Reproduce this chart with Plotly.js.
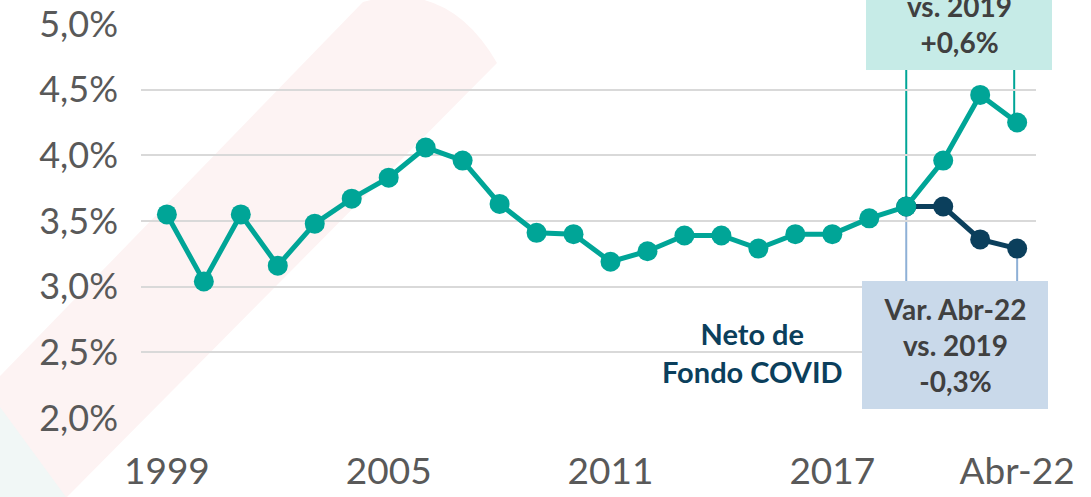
<!DOCTYPE html>
<html>
<head>
<meta charset="utf-8">
<script src="https://cdn.plot.ly/plotly-3.0.1.min.js"></script>
<style>
  html, body { margin: 0; padding: 0; background: #ffffff; }
  #chart { width: 1091px; height: 497px; }
</style>
</head>
<body>
<div id="chart"></div>
<script>
// ---- Data ----
const years = [1999, 2000, 2001, 2002, 2003, 2004, 2005, 2006, 2007, 2008, 2009, 2010,
               2011, 2012, 2013, 2014, 2015, 2016, 2017, 2018, 2019, 2020, 2021, 2022];
const totalValues = [3.55, 3.04, 3.55, 3.16, 3.48, 3.67, 3.83, 4.06, 3.96, 3.63, 3.41, 3.40,
                     3.19, 3.27, 3.39, 3.39, 3.29, 3.40, 3.40, 3.52, 3.61, 3.96, 4.46, 4.25];
const netYears = [2019, 2020, 2021, 2022];
const netValues = [3.61, 3.61, 3.36, 3.29];
const tickYears = [1999, 2005, 2011, 2017, 2022];
const tickLabels = ['1999', '2005', '2011', '2017', 'Abr-22'];
const yTicks = [2.0, 2.5, 3.0, 3.5, 4.0, 4.5, 5.0];
const yTickLabels = ['2,0%', '2,5%', '3,0%', '3,5%', '4,0%', '4,5%', '5,0%'];
const boxUpText = 'Var. Abr-22<br>vs. 2019<br>+0,6%';
const boxDownText = 'Var. Abr-22<br>vs. 2019<br>-0,3%';
const netLabel = 'Neto de<br>Fondo COVID';

// ---- Style ----
const TEAL = '#00a597';
const NAVY = '#0b3f5c';
const FONT = 'Lato, "Open Sans", sans-serif';

// plot area geometry (pixels) used only for the decorative background
const M = {l: 141, r: 55, t: 24, b: 79};
const W = 1091, H = 497;
const pw = W - M.l - M.r, ph = H - M.t - M.b;
const PX = x => ((x - M.l) / pw).toFixed(4);
const PY = y => ((H - M.b - y) / ph).toFixed(4);

const pinkPath = `M${PX(0)},${PY(376)} L${PX(363)},${PY(2)} Q${PX(448)},${PY(-22)} ${PX(497)},${PY(63)} L${PX(67)},${PY(497)} L${PX(0)},${PY(497)} Z`;
const greenPath = `M${PX(0)},${PY(407)} L${PX(0)},${PY(497)} L${PX(66)},${PY(497)} Z`;

const traces = [
  {
    x: netYears, y: netValues, type: 'scatter', mode: 'lines+markers',
    line: {color: NAVY, width: 5}, marker: {color: NAVY, size: 20},
    hoverinfo: 'skip', showlegend: false
  },
  {
    x: years, y: totalValues, type: 'scatter', mode: 'lines+markers',
    line: {color: TEAL, width: 5}, marker: {color: TEAL, size: 20},
    hoverinfo: 'skip', showlegend: false
  }
];

const layout = {
  width: W, height: H,
  margin: M,
  paper_bgcolor: 'rgba(0,0,0,0)',
  plot_bgcolor: 'rgba(0,0,0,0)',
  showlegend: false,
  font: {family: FONT, color: '#595959'},
  xaxis: {
    range: [1998.30, 2022.51],
    tickmode: 'array', tickvals: tickYears, ticktext: tickLabels,
    showgrid: false, zeroline: false, showline: false, ticks: '',
    tickfont: {family: FONT, size: 37, color: '#595959'},
    ticklabelstandoff: 28, ticklabeloverflow: 'allow',
    automargin: false, fixedrange: true
  },
  yaxis: {
    range: [2.0, 5.0],
    tickmode: 'array', tickvals: yTicks, ticktext: yTickLabels,
    showgrid: true, gridcolor: '#d9d9d9', gridwidth: 2,
    zeroline: false, showline: false, ticks: '',
    tickfont: {family: FONT, size: 36, color: '#595959'},
    ticklabelstandoff: 22, ticklabeloverflow: 'allow',
    automargin: false, fixedrange: true
  },
  shapes: [
    {type: 'path', xref: 'paper', yref: 'paper', path: pinkPath,
     fillcolor: '#fdf3f3', line: {width: 0}, layer: 'below'},
    {type: 'path', xref: 'paper', yref: 'paper', path: greenPath,
     fillcolor: '#f1f7f6', line: {width: 0}, layer: 'below'},
    // teal connectors to upper box
    {type: 'line', xref: 'x', yref: 'y', x0: 2019, x1: 2019, y0: netValues[0], y1: 4.9,
     line: {color: TEAL, width: 2}, layer: 'below'},
    {type: 'line', xref: 'x', yref: 'y', x0: 2021.92, x1: 2021.92, y0: totalValues[23], y1: 4.9,
     line: {color: TEAL, width: 2}, layer: 'below'},
    // blue connectors to lower box
    {type: 'line', xref: 'x', yref: 'y', x0: 2019, x1: 2019, y0: netValues[0], y1: 2.8,
     line: {color: '#8eb0d6', width: 2}, layer: 'below'},
    {type: 'line', xref: 'x', yref: 'y', x0: 2022, x1: 2022, y0: netValues[3], y1: 2.8,
     line: {color: '#8eb0d6', width: 2}, layer: 'below'}
  ],
  annotations: [
    {xref: 'x', yref: 'paper', x: 2020.43, y: 1.046, xanchor: 'center', yanchor: 'middle',
     text: boxUpText, showarrow: false,
     width: 186, height: 128, bgcolor: '#c6ebe7', borderpad: 0, borderwidth: 0,
     align: 'center', valign: 'middle',
     font: {family: FONT, size: 28, color: '#404040', weight: 700}},
    {xref: 'x', yref: 'y', x: 2020.32, y: 2.555, xanchor: 'center', yanchor: 'middle',
     text: boxDownText, showarrow: false,
     width: 186, height: 128, bgcolor: '#c9d9ea', borderpad: 0, borderwidth: 0,
     align: 'center', valign: 'middle',
     font: {family: FONT, size: 28, color: '#404040', weight: 700}},
    {xref: 'x', yref: 'y', x: 2014.83, y: 2.50, xanchor: 'center', yanchor: 'middle',
     text: netLabel, showarrow: false, align: 'center',
     font: {family: FONT, size: 29, color: NAVY, weight: 700}}
  ]
};

Plotly.newPlot('chart', traces, layout, {displayModeBar: false, staticPlot: true});
</script>
</body>
</html>
